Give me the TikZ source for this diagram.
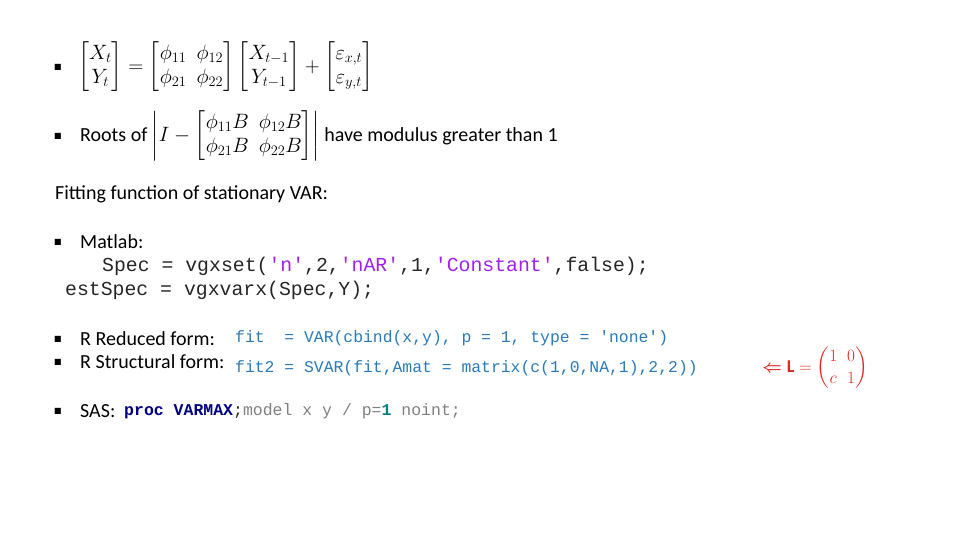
\documentclass[tikz,border=0pt]{standalone}
\usepackage{amsmath}
\usepackage{fontspec}
\setmainfont{Carlito}
\newfontfamily\codefont{Liberation Mono}
\newfontfamily\symfont{DejaVu Sans}
\definecolor{rblue}{HTML}{2A7AB8}
\definecolor{mpurple}{HTML}{A020F0}
\definecolor{sasnavy}{HTML}{000080}
\definecolor{sasgray}{HTML}{808080}
\definecolor{sasteal}{HTML}{008080}
\definecolor{lred}{HTML}{E0261E}
\begin{document}
\begin{tikzpicture}[x=1pt,y=-1pt,
  txt/.style={anchor=west,inner sep=0pt,font=\fontsize{20}{24}\selectfont},
  bul/.style={anchor=center,inner sep=0pt,font=\fontsize{8}{10}\selectfont},
  code/.style={anchor=west,inner sep=0pt,text=black!85,font=\codefont\fontsize{19.8}{23}\selectfont},
  rcode/.style={anchor=west,inner sep=0pt,text=rblue,font=\codefont\fontsize{16.4}{19}\selectfont}]
\useasboundingbox (0,0) rectangle (960,540);
\node[bul] (b1) at (58,67) {\symfont ■};
\node[txt] (eq) at (78,67) {$\begin{bmatrix}X_t\\Y_t\end{bmatrix}=\begin{bmatrix}\phi_{11}&\phi_{12}\\\phi_{21}&\phi_{22}\end{bmatrix}\begin{bmatrix}X_{t-1}\\Y_{t-1}\end{bmatrix}+\begin{bmatrix}\varepsilon_{x,t}\\\varepsilon_{y,t}\end{bmatrix}$};
\node[bul] (b2) at (58,136) {\symfont ■};
\node[txt] (roots) at (80,136) {Roots of $\left|I-\begin{bmatrix}\phi_{11}B&\phi_{12}B\\\phi_{21}B&\phi_{22}B\end{bmatrix}\right|$ have modulus greater than 1};
\node[txt] (fit) at (55,194) {Fitting function of stationary VAR:};
\node[bul] (b3) at (58,242) {\symfont ■};
\node[txt] (mat) at (80,242) {Matlab:};
\node[code] (spec) at (102,266) {Spec = vgxset(\textcolor{mpurple}{'n'},2,\textcolor{mpurple}{'nAR'},1,\textcolor{mpurple}{'Constant'},false);};
\node[code] (est) at (65,290) {estSpec = vgxvarx(Spec,Y);};
\node[bul] (b4) at (58,339) {\symfont ■};
\node[txt] (rr) at (80,339) {R Reduced form:};
\node[rcode] (rrc) at (235,338) {fit\ \ = VAR(cbind(x,y), p = 1, type = 'none')};
\node[bul] (b5) at (58,362) {\symfont ■};
\node[txt] (rs) at (80,362) {R Structural form:};
\node[rcode] (rsc) at (235,368) {fit2 = SVAR(fit,Amat = matrix(c(1,0,NA,1),2,2))};
\node[txt,text=lred,font=\fontsize{18}{22}\selectfont] (L) at (762,368) {$\boldsymbol{\Leftarrow}\mathbf{L}=\begin{pmatrix}1&0\\c&1\end{pmatrix}$};
\node[bul] (b6) at (58,411) {\symfont ■};
\node[txt] (sas) at (80,411) {SAS:};
\node[code,font=\codefont\fontsize{16.5}{19}\selectfont] (sasc) at (124,411) {\textcolor{sasnavy}{\bfseries proc VARMAX};\textcolor{sasgray}{model x y / p=}\textcolor{sasteal}{\bfseries 1}\textcolor{sasgray}{\ noint;}};
\end{tikzpicture}
\end{document}
